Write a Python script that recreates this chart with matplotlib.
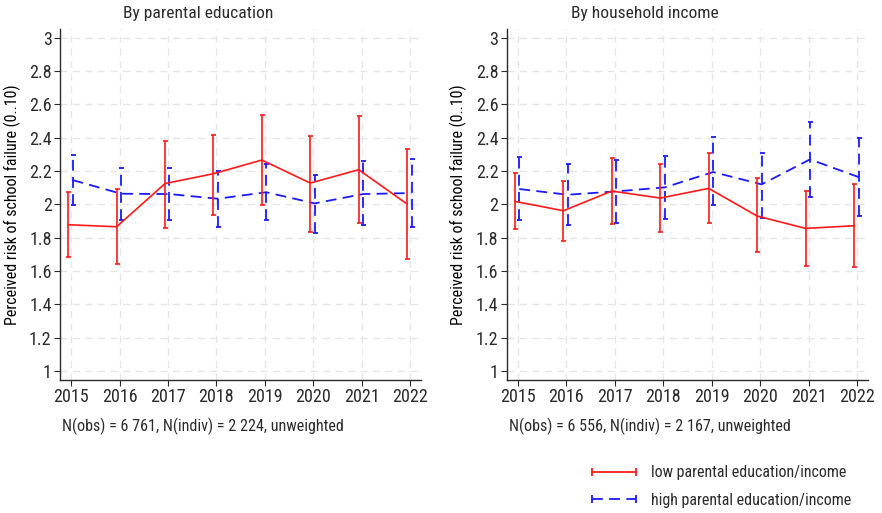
import numpy as np
import matplotlib.pyplot as plt
from matplotlib.lines import Line2D

plt.rcParams['font.family'] = ['Roboto Condensed', 'DejaVu Sans']
plt.rcParams['text.color'] = '#2b2b2b'

years = [2015, 2016, 2017, 2018, 2019, 2020, 2021, 2022]

# By parental education
edu_low = [1.878, 1.866, 2.125, 2.184, 2.266, 2.128, 2.208, 2.002]
edu_low_lo = [1.683, 1.642, 1.857, 1.936, 1.996, 1.836, 1.886, 1.672]
edu_low_hi = [2.076, 2.092, 2.382, 2.418, 2.538, 2.410, 2.530, 2.330]
edu_high = [2.146, 2.064, 2.062, 2.034, 2.073, 2.006, 2.062, 2.068]
edu_high_lo = [1.998, 1.906, 1.906, 1.866, 1.906, 1.826, 1.876, 1.866]
edu_high_hi = [2.298, 2.216, 2.216, 2.200, 2.245, 2.174, 2.258, 2.270]

# By household income
inc_low = [2.018, 1.962, 2.080, 2.038, 2.096, 1.930, 1.856, 1.872]
inc_low_lo = [1.854, 1.780, 1.882, 1.834, 1.888, 1.713, 1.630, 1.624]
inc_low_hi = [2.190, 2.142, 2.280, 2.240, 2.308, 2.160, 2.082, 2.124]
inc_high = [2.092, 2.058, 2.078, 2.102, 2.194, 2.120, 2.270, 2.164]
inc_high_lo = [1.904, 1.874, 1.890, 1.914, 1.994, 1.920, 2.046, 1.929]
inc_high_hi = [2.282, 2.240, 2.268, 2.292, 2.404, 2.310, 2.494, 2.396]

titles = ['By parental education', 'By household income']
notes = ['N(obs) = 6 761, N(indiv) = 2 224, unweighted',
         'N(obs) = 6 556, N(indiv) = 2 167, unweighted']
legend_labels = ['low parental education/income', 'high parental education/income']

RED = '#ff1a1a'
BLUE = '#1a1aff'
DASH = (0, (6, 3.5))

fig = plt.figure(figsize=(8.82, 5.13), dpi=100)
ax1 = fig.add_axes([0.068, 0.2593, 0.409, 0.6842])
ax2 = fig.add_axes([0.5745, 0.2593, 0.4093, 0.6842])

panels = [
    (ax1, edu_low, edu_low_lo, edu_low_hi, edu_high, edu_high_lo, edu_high_hi),
    (ax2, inc_low, inc_low_lo, inc_low_hi, inc_high, inc_high_lo, inc_high_hi),
]

x = np.array(years, dtype=float)
yt = np.arange(1.0, 3.01, 0.2)
for i, (ax, lo_m, lo_l, lo_h, hi_m, hi_l, hi_h) in enumerate(panels):
    lo_m, lo_l, lo_h = map(np.array, (lo_m, lo_l, lo_h))
    hi_m, hi_l, hi_h = map(np.array, (hi_m, hi_l, hi_h))

    eb = ax.errorbar(x + 0.03, hi_m, yerr=[hi_m - hi_l, hi_h - hi_m],
                     color=BLUE, lw=1.3, linestyle=DASH, capsize=1.8,
                     elinewidth=1.3, capthick=1.3, zorder=3)
    eb[2][0].set_linestyle(DASH)
    ax.errorbar(x - 0.06, lo_m, yerr=[lo_m - lo_l, lo_h - lo_m],
                color=RED, lw=1.2, capsize=1.8, elinewidth=1.2,
                capthick=1.2, zorder=4)

    ax.set_xlim(2014.77, 2022.22)
    ax.set_ylim(0.947, 3.052)
    ax.set_xticks(years)
    ax.set_yticks(yt)
    ax.set_yticklabels(['%g' % round(v, 1) for v in yt])
    ax.grid(True, color='#e6e6e6', linestyle=(0, (5, 4)), lw=1.0, zorder=0)
    for s in ['top', 'right']:
        ax.spines[s].set_visible(False)
    for s in ['left', 'bottom']:
        ax.spines[s].set_color('#2b2b2b')
        ax.spines[s].set_linewidth(1.0)
    ax.tick_params(colors='#2b2b2b', labelsize=13, length=4, width=0.8, pad=2)
    # panel title sits centred over the whole panel, not just the plot area
    ax.text(0.383, 1.043, titles[i], transform=ax.transAxes, fontsize=12.6,
            ha='center', va='center')
    ax.set_ylabel('Perceived risk of school failure (0..10)', fontsize=11.5, labelpad=6)
    ax.text(0.005, -0.107, notes[i], transform=ax.transAxes, fontsize=11.6,
            ha='left', va='top')

handles = [
    Line2D([0], [0], color=RED, lw=1.3, marker='|', markersize=6, markeredgewidth=1.3),
    Line2D([0], [0], color=BLUE, lw=1.3, linestyle=DASH, marker='|',
           markersize=6, markeredgewidth=1.3),
]
fig.legend(handles, legend_labels, loc='upper left', bbox_to_anchor=(0.649, 0.121),
           frameon=False, fontsize=11.5, handlelength=3.4, labelspacing=0.8,
           handletextpad=0.6, numpoints=2)

fig.savefig('out.png', dpi=100)
